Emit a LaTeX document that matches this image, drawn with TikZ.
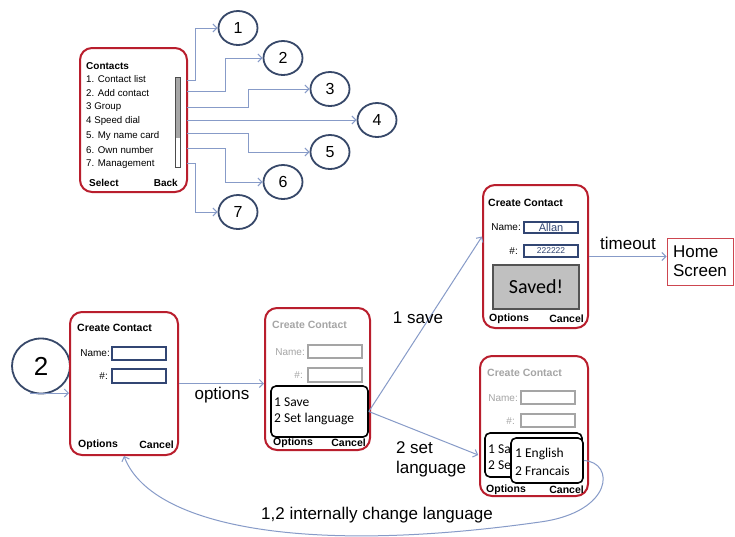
\documentclass[tikz,border=0pt]{standalone}
\usepackage{fontspec}
\setmainfont{Liberation Sans}
\newfontfamily\calib{Carlito}
\usetikzlibrary{arrows.meta,shapes.geometric}
\definecolor{phred}{RGB}{185,30,45}
\definecolor{homered}{RGB}{205,70,80}
\definecolor{circblue}{RGB}{55,72,105}
\definecolor{connblue}{RGB}{135,155,200}
\definecolor{boxblue}{RGB}{50,70,115}
\definecolor{dimgray}{RGB}{165,165,165}
\definecolor{savedfill}{RGB}{192,192,192}
\tikzset{
  phone/.style={draw=phred, line width=2pt, rounded corners=12pt, inner sep=0pt},
  numcirc/.style={ellipse, draw=circblue, line width=1.8pt, minimum width=39pt, minimum height=34pt, inner sep=0pt, font=\fontsize{16}{16}\selectfont},
  conn/.style={draw=connblue, line width=1pt, -{Straight Barb[length=4pt,width=8pt]}},
  ttl/.style={inner sep=0pt, font=\fontsize{10.5}{12}\selectfont\bfseries},
  ttlc/.style={inner sep=0pt, font=\fontsize{10}{12}\selectfont\bfseries},
  item/.style={inner sep=0pt, anchor=west, font=\fontsize{9.7}{11}\selectfont},
  fld/.style={inner sep=0pt, anchor=east, font=\fontsize{10}{11}\selectfont},
  inbox/.style={draw=boxblue, line width=1.5pt},
  inboxg/.style={draw=dimgray, line width=1.5pt},
  menubox/.style={draw=black, line width=1.6pt, rounded corners=5pt},
  menutxt/.style={inner sep=0pt, anchor=west, font=\calib\fontsize{13.5}{15}\selectfont},
  lbl/.style={inner sep=0pt, font=\fontsize{17}{20}\selectfont}
}
\begin{document}
\begin{tikzpicture}[x=1pt,y=-1pt]
\useasboundingbox[fill=white] (0,0) rectangle (735,536);

% ---------------- Contacts phone ----------------
\node[phone, minimum width=107pt, minimum height=144pt] (contacts) at (133.5,120) {};
\node[ttlc, anchor=west] (ct) at (86,66) {Contacts};
\node[item] (i1) at (86,79) {1. Contact list};
\node[item] (i2) at (86,93) {2. Add contact};
\node[item] (i3) at (86,107) {3 Group};
\node[item] (i4) at (86,121) {4 Speed dial};
\node[item] (i5) at (86,136) {5. My name card};
\node[item] (i6) at (86,150) {6. Own number};
\node[item] (i7) at (86,164) {7. Management};
\node[ttlc, anchor=west] (csel) at (89,183) {Select};
\node[ttlc, anchor=east] (cback) at (178,183) {Back};
\draw[draw=gray!60!black, fill=white, line width=1pt] (175,77) rectangle (180,167);
\fill[gray!70] (175.5,77.5) rectangle (179.5,138);
\draw[draw=gray!60!black, line width=1pt] (175,77) rectangle (180,167);

% circles
\node[numcirc] (c1) at (238,28) {1};
\node[numcirc] (c2) at (283,58) {2};
\node[numcirc] (c3) at (330,89) {3};
\node[numcirc] (c4) at (377,120) {4};
\node[numcirc] (c5) at (330,152) {5};
\node[numcirc] (c6) at (283,182) {6};
\node[numcirc] (c7) at (238,212) {7};

\coordinate (s1) at (187,80);
\coordinate (s2) at (187,91);
\coordinate (s3) at (187,107);
\coordinate (s4) at (187,120);
\coordinate (s5) at (187,133);
\coordinate (s6) at (187,148);
\coordinate (s7) at (187,163);
\draw[conn] (s1) -- ++(8,0) |- (c1);
\draw[conn] (s2) -- ++(38,0) |- (c2);
\draw[conn] (s3) -- ++(61,0) |- (c3);
\draw[conn] (s4) -- (c4);
\draw[conn] (s5) -- ++(61,0) |- (c5);
\draw[conn] (s6) -- ++(38,0) |- (c6);
\draw[conn] (s7) -- ++(8,0) |- (c7);

% ---------------- Phone A ----------------
\node[numcirc, minimum width=58pt, minimum height=55pt, font=\fontsize{26}{26}\selectfont] (big2) at (41,366) {2};
\node[phone, minimum width=108pt, minimum height=143pt] (A) at (124,383.5) {};
\coordinate (in2) at (30,393);
\draw[conn] (in2) -- (in2 -| A.west);
\node[ttl, anchor=west] (At) at (77,328) {Create Contact};
\node[fld] (An) at (110,353) {Name:};
\draw[inbox] (112,347) rectangle (166,360);
\node[fld] (Ah) at (108,376) {\#:};
\draw[inbox] (112,369) rectangle (166,383);
\node[ttl, anchor=west] (Ao) at (78,445) {Options};
\node[ttl, anchor=east] (Ac) at (174,445) {Cancel};

% ---------------- Phone B ----------------
\node[phone, minimum width=105pt, minimum height=142pt] (B) at (317.5,379) {};
\node[ttl, anchor=west, text=dimgray] (Bt) at (272,325) {Create Contact};
\node[fld, text=dimgray] (Bn) at (305,352) {Name:};
\draw[inboxg] (308,345) rectangle (362,358);
\node[fld, text=dimgray] (Bh) at (303,375) {\#:};
\draw[inboxg] (308,368) rectangle (362,382);
\node[menubox, minimum width=97pt, minimum height=51pt] (Bm) at (319.5,411.5) {};
\node[menutxt] (Bm1) at (274,402) {1 Save};
\node[menutxt] (Bm2) at (274,419) {2 Set language};
\node[ttl, anchor=west] (Bo) at (273,443) {Options};
\node[ttl, anchor=east] (Bc) at (366,443) {Cancel};

\draw[conn] (A.east) -- (A.east -| B.west);
\node[lbl] (lopt) at (222,395) {options};

% ---------------- Phone C ----------------
\node[phone, minimum width=105pt, minimum height=143pt] (C) at (535.5,256.5) {};
\node[ttl, anchor=west] (Ct) at (488,203) {Create Contact};
\node[fld] (Cn) at (521,227) {Name:};
\node[inbox, minimum width=54pt, minimum height=11pt, inner sep=0pt, font=\fontsize{11}{11}\selectfont, text=boxblue] (Cnb) at (551,227.5) {Allan};
\node[fld] (Ch) at (518,251) {\#:};
\node[inbox, minimum width=54pt, minimum height=12pt, inner sep=0pt, font=\fontsize{8.5}{8.5}\selectfont, text=boxblue] (Chb) at (551,251) {222222};
\node[draw=gray!65!black, fill=savedfill, line width=1.2pt, minimum width=86pt, minimum height=44pt, inner sep=0pt, font=\calib\fontsize{20}{21}\selectfont] (saved) at (536,287) {Saved!};
\node[ttl, anchor=west] (Co) at (489,319) {Options};
\node[ttl, anchor=east] (Cc) at (584,319) {Cancel};

% ---------------- Home screen ----------------
\node[draw=homered, line width=1pt, minimum width=66pt, minimum height=47pt, align=left, inner sep=0pt, font=\fontsize{17}{19}\selectfont] (home) at (700,261.5) {Home\\Screen};
\draw[conn] (C.east) -- (C.east -| home.west);
\node[lbl] (ltime) at (628,243) {timeout};

% ---------------- Phone D ----------------
\node[phone, minimum width=108pt, minimum height=140pt] (D) at (534,426) {};
\node[ttl, anchor=west, text=dimgray] (Dt) at (487,373) {Create Contact};
\node[fld, text=dimgray] (Dn) at (518,398) {Name:};
\draw[inboxg] (521,391) rectangle (575,404);
\node[fld, text=dimgray] (Dh) at (515,421) {\#:};
\draw[inboxg] (521,414) rectangle (575,427);
\node[menubox, minimum width=97pt, minimum height=44pt] (Dm1) at (533.5,455) {};
\node[menutxt] (Dm1a) at (488,449) {1 Sa};
\node[menutxt] (Dm1b) at (488,465) {2 Se};
\node[menubox, fill=white, minimum width=72pt, minimum height=45pt] (Dm2) at (547,460.5) {};
\node[menutxt] (Dm2a) at (515,454) {1 English};
\node[menutxt] (Dm2b) at (515,471) {2 Francais};
\node[ttl, anchor=west] (Do) at (486,490) {Options};
\node[ttl, anchor=east] (Dc) at (584,490) {Cancel};

% ---------------- transitions ----------------
\draw[conn] (Bm.east) -- ([yshift=20pt]C.west);
\node[lbl] (lsave) at (418,318) {1 save};
\draw[conn] (Bm.east) -- ([xshift=-6pt]Dm1.west);
\node[lbl, align=left] (lset) at (431,459) {2 set\\language};

\draw[conn] (Dm2.east) .. controls (615,462) and (614,512) .. (540,522)
  .. controls (300,556) and (150,525) .. (A.south);
\node[lbl] (lint) at (377,515) {1,2 internally change language};
\end{tikzpicture}
\end{document}
